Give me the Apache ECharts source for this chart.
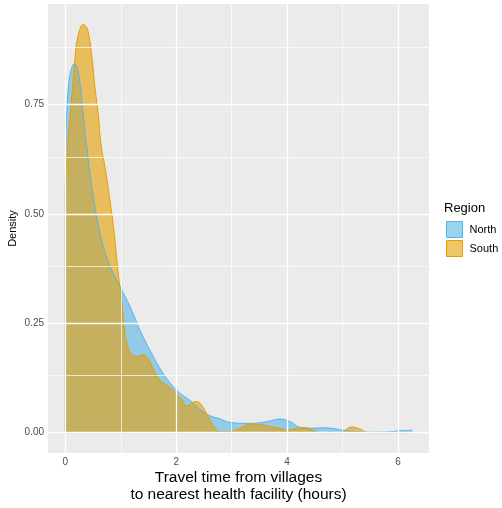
<!DOCTYPE html>
<html>
<head>
<meta charset="utf-8">
<script src="https://cdn.jsdelivr.net/npm/echarts@6/dist/echarts.min.js"></script>
<style>
  html, body { margin: 0; padding: 0; background: #ffffff; }
  #chart { width: 502px; height: 508px; }
</style>
</head>
<body>
<div id="chart"></div>
<script>
// Kernel density of travel time (hours), by region
const northTime = [0, 0.023, 0.067, 0.114, 0.162, 0.222, 0.283, 0.342, 0.384, 0.445, 0.535, 0.625, 0.744, 0.865, 0.991, 1.171, 1.351, 1.532, 1.771, 2.013, 2.252, 2.553, 2.793, 2.973, 3.333, 3.634, 3.874, 4.054, 4.234, 4.468, 4.654, 4.895, 5.076, 5.46, 5.796, 6.036, 6.247];
const northDensity = [0.55, 0.726, 0.803, 0.833, 0.843, 0.830, 0.780, 0.703, 0.658, 0.593, 0.516, 0.456, 0.401, 0.364, 0.333, 0.287, 0.233, 0.187, 0.134, 0.096, 0.073, 0.042, 0.031, 0.023, 0.021, 0.025, 0.031, 0.025, 0.012, 0.010, 0.011, 0.008, 0.004, 0.001, 0.0015, 0.004, 0.0055];

const southTime = [0, 0.041, 0.114, 0.175, 0.234, 0.324, 0.402, 0.474, 0.535, 0.595, 0.643, 0.715, 0.805, 0.883, 0.942, 0.978, 1.022, 1.063, 1.123, 1.202, 1.292, 1.411, 1.501, 1.591, 1.712, 1.892, 2.072, 2.193, 2.342, 2.432, 2.553, 2.672, 2.793, 2.973, 3.153, 3.333, 3.514, 3.694, 3.874, 4.0, 4.144, 4.294, 4.445, 4.595, 4.955, 5.166, 5.315, 5.465, 6.247];
const southDensity = [0.55, 0.658, 0.765, 0.856, 0.910, 0.933, 0.921, 0.864, 0.788, 0.726, 0.658, 0.608, 0.531, 0.455, 0.378, 0.340, 0.294, 0.241, 0.199, 0.178, 0.174, 0.178, 0.168, 0.145, 0.119, 0.103, 0.080, 0.061, 0.071, 0.067, 0.042, 0.015, 0.002, 0.002, 0.010, 0.019, 0.018, 0.014, 0.0096, 0.0055, 0.009, 0.0115, 0.006, 0.000, 0.000, 0.013, 0.008, 0.000, 0.000];

const regions = ['North', 'South'];
const xTicks = [0, 2, 4, 6];
const xMinorTicks = [1, 3, 5];
const yTicks = [0, 0.25, 0.5, 0.75];
const yMinorTicks = [0.125, 0.375, 0.625, 0.875];

const colors = { North: '#56B4E9', South: '#E69F00' };
const fillAlpha = 0.6;
const font = '"Liberation Sans", Arial, Helvetica, sans-serif';

function zip(xs, ys) { return xs.map((x, i) => [x, ys[i]]); }

function rgba(hex, a) {
  const n = parseInt(hex.slice(1), 16);
  return `rgba(${(n >> 16) & 255},${(n >> 8) & 255},${n & 255},${a})`;
}

// x / y ranges padded 5% the way ggplot does
const xLo = 0, xHi = 6.247;
const yLo = 0, yHi = 0.933;
const xPad = (xHi - xLo) * 0.05, yPad = (yHi - yLo) * 0.05;

function curveSeries(name, xs, ys) {
  return {
    name, type: 'line', z: 3,
    data: zip(xs, ys),
    smooth: 0.4,
    showSymbol: false, symbol: 'none',
    lineStyle: { color: colors[name], width: 1 },
    itemStyle: { color: colors[name] },
    areaStyle: { color: colors[name], opacity: fillAlpha },
    animation: false, silent: true
  };
}

// outline along the base and the two ends of each density polygon
function edgeSeries(name, xs, ys) {
  const last = xs.length - 1;
  return {
    name, type: 'line', z: 4,
    data: [[xs[0], ys[0]], [xs[0], 0], [xs[last], 0], [xs[last], ys[last]]],
    showSymbol: false, symbol: 'none',
    lineStyle: { color: colors[name], width: 1 },
    animation: false, silent: true
  };
}

const gridLines = {
  type: 'line', z: 1, data: [], silent: true, animation: false,
  markLine: {
    silent: true, symbol: ['none', 'none'], label: { show: false }, animation: false,
    data: [
      ...xMinorTicks.map(v => ({ xAxis: v, lineStyle: { color: '#ffffff', width: 0.7, type: 'solid' } })),
      ...yMinorTicks.map(v => ({ yAxis: v, lineStyle: { color: '#ffffff', width: 0.7, type: 'solid' } })),
      ...xTicks.map(v => ({ xAxis: v, lineStyle: { color: '#ffffff', width: 1.3, type: 'solid' } })),
      ...yTicks.map(v => ({ yAxis: v, lineStyle: { color: '#ffffff', width: 1.3, type: 'solid' } }))
    ]
  }
};

const chart = echarts.init(document.getElementById('chart'), null, { renderer: 'canvas' });
chart.setOption({
  backgroundColor: '#ffffff',
  animation: false,
  textStyle: { fontFamily: font },
  title: {
    text: 'Region', left: 444, top: 202, padding: 0,
    textStyle: { fontFamily: font, fontSize: 13, fontWeight: 'normal', color: '#000000' }
  },
  legend: {
    orient: 'vertical', left: 446, top: 221, padding: 0,
    itemWidth: 16, itemHeight: 16, itemGap: 2,
    icon: 'rect', selectedMode: false,
    textStyle: { fontFamily: font, fontSize: 11, color: '#000000', padding: [0, 0, 0, 2] },
    data: regions.map(r => ({
      name: r,
      itemStyle: { color: rgba(colors[r], fillAlpha), borderColor: colors[r], borderWidth: 1 },
      lineStyle: { opacity: 0 }
    }))
  },
  grid: {
    left: 48, right: 73, top: 4, bottom: 55,
    containLabel: false, outerBoundsMode: 'none',
    show: true, backgroundColor: '#EBEBEB', borderWidth: 0
  },
  xAxis: {
    type: 'value',
    min: xLo - xPad, max: xHi + xPad,
    name: 'Travel time from villages\nto nearest health facility (hours)',
    nameLocation: 'middle', nameGap: 16, nameMoveOverlap: false,
    nameTextStyle: { fontFamily: font, fontSize: 15.5, color: '#000000', lineHeight: 17, verticalAlign: 'top' },
    axisLine: { show: false },
    axisTick: { show: true, customValues: xTicks, length: 3, lineStyle: { color: '#333333', width: 1 } },
    axisLabel: { customValues: xTicks, margin: 4, fontSize: 10, color: '#4D4D4D', fontFamily: font },
    splitLine: { show: false }
  },
  yAxis: {
    type: 'value',
    min: yLo - yPad, max: yHi + yPad,
    name: 'Density',
    nameLocation: 'middle', nameGap: 30, nameRotate: 90, nameMoveOverlap: false,
    nameTextStyle: { fontFamily: font, fontSize: 11, color: '#000000' },
    axisLine: { show: false },
    axisTick: { show: true, customValues: yTicks, length: 3, lineStyle: { color: '#333333', width: 1 } },
    axisLabel: { customValues: yTicks, margin: 4, fontSize: 10, color: '#4D4D4D', fontFamily: font,
                 formatter: v => v.toFixed(2) },
    splitLine: { show: false }
  },
  series: [
    gridLines,
    curveSeries('North', northTime, northDensity),
    edgeSeries('North', northTime, northDensity),
    curveSeries('South', southTime, southDensity),
    edgeSeries('South', southTime, southDensity)
  ]
});
</script>
</body>
</html>
